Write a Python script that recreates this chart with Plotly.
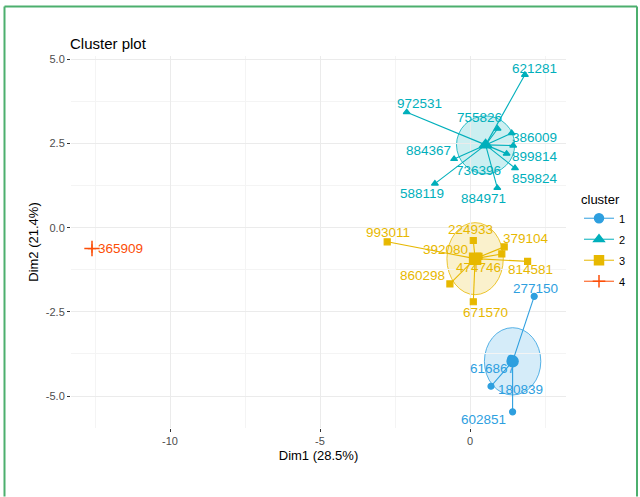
import plotly.graph_objects as go

# ---------------- data ----------------
ids = ["277150", "616867", "180839", "602851",
       "621281", "972531", "755826", "386009", "899814", "884367", "736396", "859824", "588119", "884971",
       "993011", "224933", "379104", "392080", "814581", "860298", "671570", "474746",
       "365909"]
dim1 = [2.14, 1.36, 0.70, 1.42,
        1.83, -2.11, 0.92, 1.39, 1.44, -0.53, 1.22, 1.50, -1.17, 0.91,
        -2.76, 0.11, 1.14, 0.30, 1.92, -0.67, 0.11, 1.06,
        -12.60]
dim2 = [-2.04, -3.88, -4.71, -5.47,
        4.54, 3.43, 2.94, 2.81, 2.44, 2.04, 2.20, 1.77, 1.31, 1.18,
        -0.42, -0.38, -0.57, -0.85, -1.00, -1.67, -2.20, -0.78,
        -0.62]
cluster = [1, 1, 1, 1,
           2, 2, 2, 2, 2, 2, 2, 2, 2, 2,
           3, 3, 3, 3, 3, 3, 3, 3,
           4]

clusters = [1, 2, 3, 4]
center_dim1 = [1.42, 0.52, 0.17, -12.60]
center_dim2 = [-3.97, 2.46, -0.92, -0.62]
ellipse_rx = [0.94, 0.97, 0.94, 0.0]
ellipse_ry = [1.00, 0.86, 1.07, 0.0]

x_ticks = [-10, -5, 0]
y_ticks = [-5.0, -2.5, 0.0, 2.5, 5.0]
y_tick_labels = ["-5.0", "-2.5", "0.0", "2.5", "5.0"]

# ---------------- styles ----------------
colors = {1: "#2E9FDF", 2: "#00AFBB", 3: "#E7B800", 4: "#FC4E07"}
symbols = {1: "circle", 2: "triangle-up", 3: "square", 4: "cross-thin-open"}
# label offsets in pixels (right, up), mimicking repelled labels
label_shift = {
    "277150": (1, 8), "616867": (-18, -10), "180839": (29, -3), "602851": (-29, -8),
    "621281": (10, 6), "972531": (13, 9), "755826": (-18, 11), "386009": (23, -4),
    "899814": (22, -11), "884367": (-26, 9), "736396": (-28, -17), "859824": (20, -10),
    "588119": (-13, -10), "884971": (-14, -11),
    "993011": (1, 9), "224933": (-3, 11), "379104": (22, 8), "392080": (-34, 7),
    "814581": (3, -8), "860298": (-27, 8), "671570": (12, -11), "474746": (-23, -14),
    "365909": (28, 0),
}

W, H = 640, 497
ML, MR, MT, MB = 71, 74, 56, 68.5
XR = [-13.3, 3.2]
YR = [-5.95, 5.1]
FONT = "Liberation Sans, Arial, sans-serif"

fig = go.Figure()
shapes = []
annotations = []

for k, c in enumerate(clusters):
    col = colors[c]
    cx, cy = center_dim1[k], center_dim2[k]
    if ellipse_rx[k] > 0:
        shapes.append(dict(type="circle", xref="x", yref="y", layer="below",
                           x0=cx - ellipse_rx[k], x1=cx + ellipse_rx[k],
                           y0=cy - ellipse_ry[k], y1=cy + ellipse_ry[k],
                           fillcolor=col, opacity=0.2, line=dict(width=0)))
        shapes.append(dict(type="circle", xref="x", yref="y", layer="below",
                           x0=cx - ellipse_rx[k], x1=cx + ellipse_rx[k],
                           y0=cy - ellipse_ry[k], y1=cy + ellipse_ry[k],
                           line=dict(color=col, width=0.8)))
    idx = [i for i in range(len(ids)) if cluster[i] == c]
    lx, ly = [], []
    for i in idx:
        lx += [cx, dim1[i], None]
        ly += [cy, dim2[i], None]
    fig.add_trace(go.Scatter(x=lx, y=ly, mode="lines", line=dict(color=col, width=1.1),
                             showlegend=False, hoverinfo="skip"))
    fig.add_trace(go.Scatter(x=[dim1[i] for i in idx], y=[dim2[i] for i in idx],
                             mode="markers", showlegend=False,
                             marker=dict(symbol=symbols[c], color=col, size=6,
                                         line=dict(color=col, width=1.2))))
    fig.add_trace(go.Scatter(x=[cx], y=[cy], mode="markers", showlegend=False,
                             marker=dict(symbol=symbols[c], color=col, size=11,
                                         line=dict(color=col, width=1.5))))
    for i in idx:
        dx, dy = label_shift[ids[i]]
        annotations.append(dict(x=dim1[i], y=dim2[i], xref="x", yref="y", text=ids[i],
                                showarrow=False, xshift=dx, yshift=dy,
                                font=dict(family=FONT, size=13.5, color=col)))
    # legend entry
    fig.add_trace(go.Scatter(x=[None], y=[None], mode="lines+markers", name=str(c),
                             legendgroup=str(c),
                             line=dict(color=col, width=1),
                             marker=dict(symbol=symbols[c], color=col, size=9,
                                         line=dict(color=col, width=1.5))))

# green frame around the figure
pw = W - ML - MR
ph = H - MT - MB
def px2x(px):
    return (px - ML) / pw
def py2y(py):
    return (H - MB - py) / ph
frame = dict(color="#4CAF6E", width=2)
shapes.append(dict(type="line", xref="paper", yref="paper", x0=px2x(4.5), x1=px2x(4.5),
                   y0=py2y(6.5), y1=py2y(497), line=frame))
shapes.append(dict(type="line", xref="paper", yref="paper", x0=px2x(4.5), x1=px2x(637),
                   y0=py2y(6.5), y1=py2y(6.5), line=frame))
shapes.append(dict(type="line", xref="paper", yref="paper", x0=px2x(637), x1=px2x(637),
                   y0=py2y(6.5), y1=py2y(497), line=frame))

annotations.append(dict(text="Cluster plot", xref="paper", yref="paper", x=px2x(68), y=py2y(43),
                        xanchor="left", yanchor="middle", showarrow=False,
                        font=dict(family=FONT, size=15, color="black")))

fig.update_layout(
    width=W, height=H,
    margin=dict(l=ML, r=MR, t=MT, b=MB, pad=0, autoexpand=False),
    paper_bgcolor="white", plot_bgcolor="white",
    font=dict(family=FONT),
    shapes=shapes, annotations=annotations,
    legend=dict(title=dict(text="cluster", font=dict(size=13, color="black")),
                x=px2x(579), y=py2y(187), xanchor="left", yanchor="top",
                font=dict(size=11, color="black"), tracegroupgap=2, itemwidth=30,
                bgcolor="rgba(0,0,0,0)"),
    xaxis=dict(range=XR, tickvals=x_ticks, ticktext=[str(v) for v in x_ticks],
               showgrid=True, gridcolor="#EBEBEB", gridwidth=1, zeroline=False,
               ticks="outside", ticklen=3, tickcolor="#333333",
               tickfont=dict(size=11, color="#4D4D4D"), automargin=False,
               minor=dict(dtick=2.5, showgrid=True, gridcolor="#F4F4F4", gridwidth=0.6),
               title=dict(text="Dim1 (28.5%)", font=dict(size=13, color="black"), standoff=4),
               showline=False),
    yaxis=dict(range=YR, tickvals=y_ticks, ticktext=y_tick_labels,
               showgrid=True, gridcolor="#EBEBEB", gridwidth=1, zeroline=False,
               ticks="outside", ticklen=3, tickcolor="#333333",
               tickfont=dict(size=11, color="#4D4D4D"), automargin=False,
               minor=dict(dtick=1.25, showgrid=True, gridcolor="#F4F4F4", gridwidth=0.6),
               title=dict(text="Dim2 (21.4%)", font=dict(size=13, color="black"), standoff=4),
               showline=False),
)

fig.write_html("out.html", config={"displayModeBar": False},
               post_script="document.body.style.margin='0px';document.body.style.overflow='hidden';")
